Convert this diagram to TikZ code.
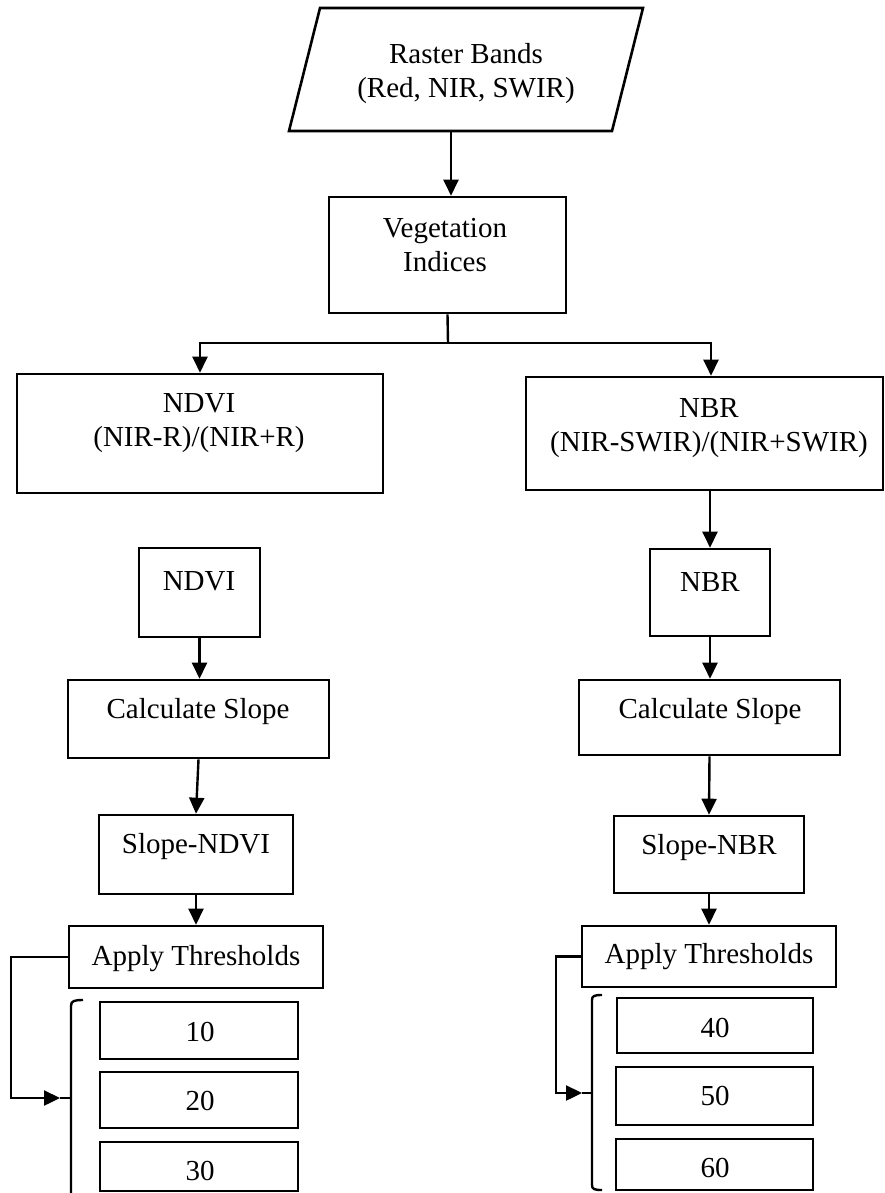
\documentclass[tikz,border=0pt]{standalone}
\usepackage{fontspec}
\setmainfont{Liberation Serif}
\usetikzlibrary{arrows.meta,calc}
\begin{document}
\begin{tikzpicture}[
  x=1pt, y=-1pt,
  box/.style={draw, line width=2.6pt, inner sep=0pt},
  txt/.style={anchor=base, inner sep=0pt, font=\fontsize{29}{34}\selectfont},
  ln/.style={line width=2.4pt},
  conn/.style={line width=2.4pt, -{Triangle[length=16pt,width=15pt]}}
]
\useasboundingbox (0,0) rectangle (885,1193);

% input bands (parallelogram)
\coordinate (bands-tl) at (320,8);
\coordinate (bands-tr) at (643,8);
\coordinate (bands-br) at (612,131);
\coordinate (bands-bl) at (289,131);
\draw[ln, line width=2.6pt, line join=miter] (bands-tl) -- (bands-tr) -- (bands-br) -- (bands-bl) -- cycle;
\coordinate (bands-out) at (451,131);
\node[txt] (bands-1) at (466,64) {Raster Bands};
\node[txt] (bands-2) at (466,98) {(Red, NIR, SWIR)};

% vegetation indices
\node[box, minimum width=237pt, minimum height=116pt] (veg) at (447.5,255) {};
\node[txt] (veg-1) at (445,237) {Vegetation};
\node[txt] (veg-2) at (445,271) {Indices};

% index definitions
\node[box, minimum width=366pt, minimum height=119pt] (ndviB) at (200,433.5) {};
\node[txt] (ndviB-1) at (199,412) {NDVI};
\node[txt] (ndviB-2) at (199,446) {(NIR-R)/(NIR+R)};
\node[box, minimum width=357pt, minimum height=113pt] (nbrB) at (704.5,433.5) {};
\node[txt] (nbrB-1) at (709,417) {NBR};
\node[txt] (nbrB-2) at (709,451) {(NIR-SWIR)/(NIR+SWIR)};

% left column
\node[box, minimum width=121pt, minimum height=89pt] (ndviS) at (199.5,592.5) {};
\node[txt] (ndviS-t) at (199,590) {NDVI};
\node[box, minimum width=261pt, minimum height=78pt] (calcL) at (198.5,719) {};
\node[txt] (calcL-t) at (198,718) {Calculate Slope};
\node[box, minimum width=194pt, minimum height=79pt] (slopeN) at (196,854.5) {};
\node[txt] (slopeN-t) at (196,853) {Slope-NDVI};
\node[box, minimum width=254pt, minimum height=62pt] (applyL) at (196,957) {};
\node[txt] (applyL-t) at (196,965) {Apply Thresholds};
\node[box, minimum width=198pt, minimum height=57pt] (t10) at (199,1030.5) {};
\node[txt] (t10-t) at (200,1041) {10};
\node[box, minimum width=198pt, minimum height=56pt] (t20) at (199,1100) {};
\node[txt] (t20-t) at (200,1110) {20};
\node[box, minimum width=198pt, minimum height=49pt] (t30) at (199,1166.5) {};
\node[txt] (t30-t) at (200,1180) {30};

% right column
\node[box, minimum width=120pt, minimum height=87pt] (nbrS) at (710,592.5) {};
\node[txt] (nbrS-t) at (710,591) {NBR};
\node[box, minimum width=261pt, minimum height=75pt] (calcR) at (709.5,717.5) {};
\node[txt] (calcR-t) at (710,718) {Calculate Slope};
\node[box, minimum width=190pt, minimum height=77pt] (slopeB) at (709,854.5) {};
\node[txt] (slopeB-t) at (709,854) {Slope-NBR};
\node[box, minimum width=254pt, minimum height=61pt] (applyR) at (709,956.5) {};
\node[txt] (applyR-t) at (709,963) {Apply Thresholds};
\node[box, minimum width=196pt, minimum height=55pt] (t40) at (715,1025.5) {};
\node[txt] (t40-t) at (715,1037) {40};
\node[box, minimum width=197pt, minimum height=58pt] (t50) at (714.5,1096) {};
\node[txt] (t50-t) at (715,1105) {50};
\node[box, minimum width=197pt, minimum height=51pt] (t60) at (714.5,1164.5) {};
\node[txt] (t60-t) at (715,1177) {60};

% top connectors
\draw[conn] (bands-out) -- (bands-out |- veg.north);
\coordinate (split) at (448,343);
\draw[ln] (veg.south) -- (split);
\draw[conn] (split) -| (ndviB.north);
\draw[conn] (split) -| ([xshift=6.5pt]nbrB.north);

% column connectors
\draw[conn] (nbrS.north |- nbrB.south) -- (nbrS.north);
\draw[conn] (ndviS.south) -- (ndviS.south |- calcL.north);
\draw[conn] (calcL.south) -- (slopeN.north);
\draw[conn] (slopeN.south) -- (applyL.north);
\draw[conn] (nbrS.south) -- (nbrS.south |- calcR.north);
\draw[conn] (calcR.south) -- (slopeB.north);
\draw[conn] (slopeB.south) -- (applyR.north);

% threshold brackets
\coordinate (brL-tip) at (60,1098);
\coordinate (brR-tip) at (582,1093);
\draw[ln] (83,1000) .. controls (74,1000) and (71,1001) .. (71,1006) -- (71,1196);
\draw[ln] (71,1098) -- (brL-tip);
\draw[ln] (602,995) .. controls (594,995) and (592,996) .. (592,1000)
  -- (592,1185) .. controls (592,1189) and (594,1190) .. (602,1190);
\draw[ln] (592,1093) -- (brR-tip);

% threshold loops
\draw[conn] (applyL.west) -- ++(-57,0) |- (brL-tip);
\draw[conn] (applyR.west) -- ++(-25,0) |- (brR-tip);
\end{tikzpicture}
\end{document}
